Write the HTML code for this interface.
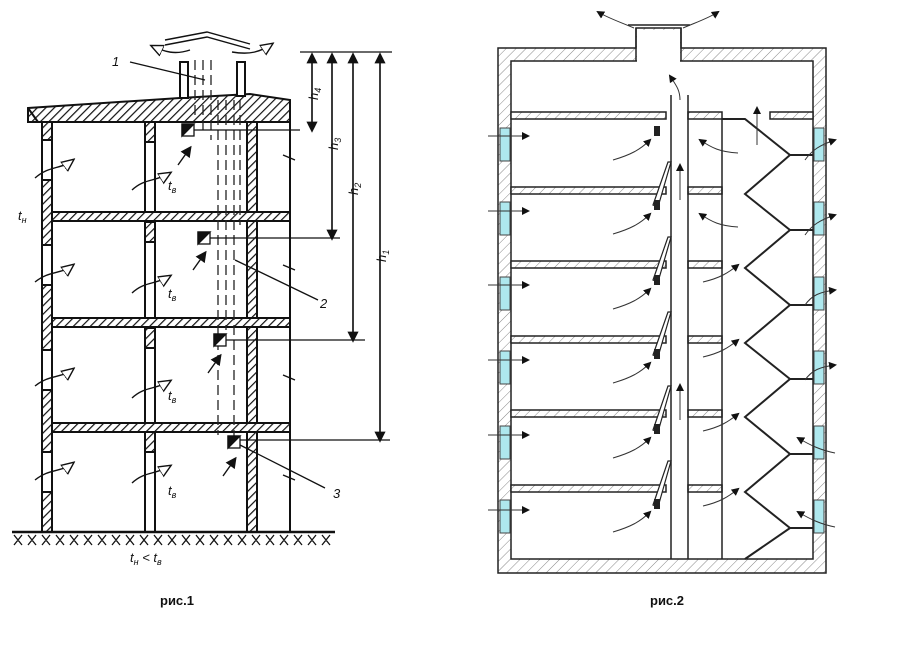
<!DOCTYPE html>
<html><head><meta charset="utf-8"><style>
html,body{margin:0;padding:0;background:#fff;}
svg{display:block}
text{font-family:"Liberation Sans",sans-serif;}
</style></head><body>
<svg width="899" height="645" viewBox="0 0 899 645" xmlns="http://www.w3.org/2000/svg">
<defs>
<pattern id="h" width="6" height="6" patternUnits="userSpaceOnUse" patternTransform="rotate(45)">
<rect width="6" height="6" fill="#fff"/><line x1="0" y1="0" x2="0" y2="6" stroke="#111" stroke-width="2.4"/></pattern>
<pattern id="h2" width="7" height="7" patternUnits="userSpaceOnUse" patternTransform="rotate(45)">
<rect width="7" height="7" fill="#fff"/><line x1="0" y1="0" x2="0" y2="7" stroke="#888" stroke-width="1"/></pattern>
<marker id="a" markerWidth="8" markerHeight="8" refX="6" refY="4" orient="auto"><path d="M0,0 L8,4 L0,8 z" fill="#111"/></marker>
<marker id="o" markerWidth="10" markerHeight="10" refX="8" refY="5" orient="auto"><path d="M0,1 L9,5 L0,9 z" fill="#fff" stroke="#111"/></marker>
</defs>
<!-- ===== FIG 1 ===== -->
<g stroke="#111" stroke-width="2">
<path d="M28,108 L180,98 L250,94 L290,100 L290,122 L28,122 Z" fill="url(#h)"/>
<path d="M28,108 L38,122" fill="none"/>
<rect x="180" y="62" width="8" height="36" fill="#fff"/>
<rect x="237" y="62" width="8" height="34" fill="#fff"/>
<rect x="42" y="122" width="10" height="410" fill="url(#h)"/>
<rect x="145" y="122" width="10" height="410" fill="#fff"/>
<rect x="247" y="122" width="10" height="410" fill="url(#h)"/>
<rect x="42" y="140" width="10" height="40" fill="#fff"/>
<rect x="42" y="245" width="10" height="40" fill="#fff"/>
<rect x="42" y="350" width="10" height="40" fill="#fff"/>
<rect x="42" y="452" width="10" height="40" fill="#fff"/>
<rect x="145" y="122" width="10" height="20" fill="url(#h)"/>
<rect x="145" y="222" width="10" height="20" fill="url(#h)"/>
<rect x="145" y="328" width="10" height="20" fill="url(#h)"/>
<rect x="145" y="432" width="10" height="20" fill="url(#h)"/>
<rect x="52" y="212" width="238" height="9" fill="url(#h)"/>
<rect x="52" y="318" width="238" height="9" fill="url(#h)"/>
<rect x="52" y="423" width="238" height="9" fill="url(#h)"/>
<line x1="290" y1="122" x2="290" y2="532"/>
<line x1="12" y1="532" x2="335" y2="532" stroke-width="2.5"/>
<path d="M14,535 l8,10 m0,-10 l-8,10 M28,535 l8,10 m0,-10 l-8,10 M42,535 l8,10 m0,-10 l-8,10 M56,535 l8,10 m0,-10 l-8,10 M70,535 l8,10 m0,-10 l-8,10 M84,535 l8,10 m0,-10 l-8,10 M98,535 l8,10 m0,-10 l-8,10 M112,535 l8,10 m0,-10 l-8,10 M126,535 l8,10 m0,-10 l-8,10 M140,535 l8,10 m0,-10 l-8,10 M154,535 l8,10 m0,-10 l-8,10 M168,535 l8,10 m0,-10 l-8,10 M182,535 l8,10 m0,-10 l-8,10 M196,535 l8,10 m0,-10 l-8,10 M210,535 l8,10 m0,-10 l-8,10 M224,535 l8,10 m0,-10 l-8,10 M238,535 l8,10 m0,-10 l-8,10 M252,535 l8,10 m0,-10 l-8,10 M266,535 l8,10 m0,-10 l-8,10 M280,535 l8,10 m0,-10 l-8,10 M294,535 l8,10 m0,-10 l-8,10 M308,535 l8,10 m0,-10 l-8,10 M322,535 l8,10 m0,-10 l-8,10" stroke-width="1.3"/>
</g>
<g stroke="#222" stroke-width="1.3" stroke-dasharray="10,5">
<line x1="195" y1="60" x2="195" y2="120"/><line x1="203" y1="60" x2="203" y2="135"/><line x1="211" y1="60" x2="211" y2="140"/>
<line x1="218" y1="100" x2="218" y2="435"/><line x1="226" y1="100" x2="226" y2="330"/><line x1="234" y1="100" x2="234" y2="440"/><line x1="240" y1="100" x2="240" y2="225"/>
</g>
<g stroke="#111" stroke-width="1.3">
<rect x="182" y="124" width="12" height="12" fill="#fff"/><path d="M182,124 h12 L182,136z" fill="#111"/>
<rect x="198" y="232" width="12" height="12" fill="#fff"/><path d="M198,232 h12 L198,244z" fill="#111"/>
<rect x="214" y="334" width="12" height="12" fill="#fff"/><path d="M214,334 h12 L214,346z" fill="#111"/>
<rect x="228" y="436" width="12" height="12" fill="#fff"/><path d="M228,436 h12 L228,448z" fill="#111"/>
<line x1="194" y1="130" x2="300" y2="130"/><line x1="210" y1="238" x2="340" y2="238"/><line x1="226" y1="340" x2="365" y2="340"/><line x1="240" y1="440" x2="390" y2="440"/>
<line x1="300" y1="52" x2="392" y2="52"/>
<line x1="240" y1="445" x2="325" y2="488"/><line x1="130" y1="62" x2="205" y2="80"/><line x1="235" y1="260" x2="318" y2="300"/>
</g>
<g stroke="#111" stroke-width="1.4" fill="none">
<line x1="312" y1="56" x2="312" y2="130" marker-end="url(#a)"/><line x1="312" y1="126" x2="312" y2="55" marker-end="url(#a)"/>
<line x1="332" y1="238" x2="332" y2="55" marker-end="url(#a)"/>
<line x1="353" y1="340" x2="353" y2="55" marker-end="url(#a)"/>
<line x1="380" y1="440" x2="380" y2="55" marker-end="url(#a)"/>
<line x1="332" y1="60" x2="332" y2="238" marker-end="url(#a)"/>
<line x1="353" y1="60" x2="353" y2="340" marker-end="url(#a)"/>
<line x1="380" y1="60" x2="380" y2="440" marker-end="url(#a)"/>
<path d="M165,40 L207,32 L250,44"/><path d="M165,45 L207,37 L250,49"/>
<path d="M190,50 C175,55 165,52 152,46" marker-end="url(#o)"/><path d="M232,52 C250,55 260,52 272,44" marker-end="url(#o)"/>
<path d="M35,178 C50,165 60,170 73,160" marker-end="url(#o)"/>
<path d="M35,282 C50,270 60,275 73,265" marker-end="url(#o)"/>
<path d="M35,386 C50,374 60,379 73,369" marker-end="url(#o)"/>
<path d="M35,480 C50,468 60,473 73,463" marker-end="url(#o)"/>
<path d="M132,190 C145,178 155,182 170,173" marker-end="url(#o)"/>
<path d="M132,293 C145,281 155,285 170,276" marker-end="url(#o)"/>
<path d="M132,398 C145,386 155,390 170,381" marker-end="url(#o)"/>
<path d="M132,483 C145,471 155,475 170,466" marker-end="url(#o)"/>
<line x1="178" y1="165" x2="190" y2="148" marker-end="url(#a)"/>
<line x1="193" y1="270" x2="205" y2="253" marker-end="url(#a)"/>
<line x1="208" y1="373" x2="220" y2="356" marker-end="url(#a)"/>
<line x1="223" y1="476" x2="235" y2="459" marker-end="url(#a)"/>
<path d="M283,155 l12,5 M283,265 l12,5 M283,375 l12,5 M283,475 l12,5"/>
</g>
<g font-style="italic" font-size="13" fill="#111">
<text x="112" y="66">1</text><text x="320" y="308">2</text><text x="333" y="498">3</text>
<text x="18" y="220">t<tspan font-size="9" dy="3">н</tspan></text>
<text x="168" y="190">t<tspan font-size="9" dy="3">в</tspan></text><text x="168" y="298">t<tspan font-size="9" dy="3">в</tspan></text><text x="168" y="400">t<tspan font-size="9" dy="3">в</tspan></text><text x="168" y="495">t<tspan font-size="9" dy="3">в</tspan></text>
<text x="130" y="562">t<tspan font-size="9" dy="3">н</tspan><tspan dy="-3"> &lt; t</tspan><tspan font-size="9" dy="3">в</tspan></text>
<text transform="translate(318,100) rotate(-90)">h<tspan font-size="9" dy="3">4</tspan></text>
<text transform="translate(338,150) rotate(-90)">h<tspan font-size="9" dy="3">3</tspan></text>
<text transform="translate(358,195) rotate(-90)">h<tspan font-size="9" dy="3">2</tspan></text>
<text transform="translate(386,262) rotate(-90)">h<tspan font-size="9" dy="3">1</tspan></text>
</g>
<text x="160" y="605" font-size="13" font-weight="bold" fill="#111">рис.1</text>
<text x="650" y="605" font-size="13" font-weight="bold" fill="#111">рис.2</text>

<!-- ===== FIG 2 ===== -->
<g stroke="#222" stroke-width="1.5">
<path d="M498,48 H636 V28 H681 V48 H826 V573 H498 Z" fill="url(#h2)"/>
<rect x="511" y="61" width="302" height="498" fill="#fff"/>
<rect x="637" y="30" width="43" height="33" fill="#fff" stroke="none"/>
<line x1="636" y1="28" x2="636" y2="61"/><line x1="681" y1="28" x2="681" y2="61"/>
<line x1="628" y1="25" x2="690" y2="25"/>
<g fill="#aee8ee" stroke="#444" stroke-width="1">
<rect x="500" y="128" width="10" height="33"/><rect x="500" y="202" width="10" height="33"/><rect x="500" y="277" width="10" height="33"/><rect x="500" y="351" width="10" height="33"/><rect x="500" y="426" width="10" height="33"/><rect x="500" y="500" width="10" height="33"/>
<rect x="814" y="128" width="10" height="33"/><rect x="814" y="202" width="10" height="33"/><rect x="814" y="277" width="10" height="33"/><rect x="814" y="351" width="10" height="33"/><rect x="814" y="426" width="10" height="33"/><rect x="814" y="500" width="10" height="33"/>
</g>
<g fill="url(#h2)">
<rect x="511" y="112" width="155" height="7"/><rect x="688" y="112" width="34" height="7"/><rect x="770" y="112" width="43" height="7"/>
<rect x="511" y="187" width="155" height="7"/><rect x="688" y="187" width="34" height="7"/>
<rect x="511" y="261" width="155" height="7"/><rect x="688" y="261" width="34" height="7"/>
<rect x="511" y="336" width="155" height="7"/><rect x="688" y="336" width="34" height="7"/>
<rect x="511" y="410" width="155" height="7"/><rect x="688" y="410" width="34" height="7"/>
<rect x="511" y="485" width="155" height="7"/><rect x="688" y="485" width="34" height="7"/>
</g>
<line x1="671" y1="95" x2="671" y2="559"/><line x1="688" y1="95" x2="688" y2="559"/>
<line x1="722" y1="119" x2="722" y2="559"/>
<polyline fill="none" stroke-width="2" points="722,119 745,119 790,155 813,155 790,155 745,194 790,230 813,230 790,230 745,268 790,305 813,305 790,305 745,343 790,379 813,379 790,379 745,417 790,454 813,454 790,454 745,492 790,528 813,528 790,528 745,559"/>
<g fill="#fff" stroke-width="1.2">
<path d="M653,205 L668,162 L671,162 L658,207 Z"/><path d="M653,280 L668,237 L671,237 L658,282 Z"/><path d="M653,355 L668,312 L671,312 L658,357 Z"/><path d="M653,430 L668,386 L671,386 L658,432 Z"/><path d="M653,505 L668,461 L671,461 L658,507 Z"/>
</g>
<g fill="#222" stroke="none">
<rect x="654" y="126" width="6" height="10"/><rect x="654" y="200" width="6" height="10"/><rect x="654" y="275" width="6" height="10"/><rect x="654" y="349" width="6" height="10"/><rect x="654" y="424" width="6" height="10"/><rect x="654" y="499" width="6" height="10"/>
</g>
</g>
<g stroke="#333" stroke-width="1" fill="none">
<line x1="488" y1="136" x2="528" y2="136" marker-end="url(#a)"/><line x1="488" y1="211" x2="528" y2="211" marker-end="url(#a)"/><line x1="488" y1="285" x2="528" y2="285" marker-end="url(#a)"/><line x1="488" y1="360" x2="528" y2="360" marker-end="url(#a)"/><line x1="488" y1="435" x2="528" y2="435" marker-end="url(#a)"/><line x1="488" y1="510" x2="528" y2="510" marker-end="url(#a)"/>
<path d="M613,160 C630,155 640,150 650,140" marker-end="url(#a)"/><path d="M613,234 C630,229 640,224 650,214" marker-end="url(#a)"/><path d="M613,309 C630,304 640,299 650,289" marker-end="url(#a)"/><path d="M613,383 C630,378 640,373 650,363" marker-end="url(#a)"/><path d="M613,458 C630,453 640,448 650,438" marker-end="url(#a)"/><path d="M613,532 C630,527 640,522 650,512" marker-end="url(#a)"/>
<path d="M738,153 C720,152 712,148 700,140" marker-end="url(#a)"/><path d="M738,227 C720,226 712,222 700,214" marker-end="url(#a)"/>
<path d="M703,282 C720,278 728,273 738,265" marker-end="url(#a)"/><path d="M703,357 C720,353 728,348 738,340" marker-end="url(#a)"/><path d="M703,431 C720,427 728,422 738,414" marker-end="url(#a)"/><path d="M703,506 C720,502 728,497 738,489" marker-end="url(#a)"/>
<path d="M805,160 C812,150 820,145 835,140" marker-end="url(#a)"/><path d="M805,235 C812,225 820,220 835,215" marker-end="url(#a)"/><path d="M805,305 C812,295 820,292 835,290" marker-end="url(#a)"/><path d="M805,380 C812,370 820,367 835,365" marker-end="url(#a)"/>
<path d="M835,453 C820,450 810,445 798,438" marker-end="url(#a)"/><path d="M835,527 C820,524 810,519 798,512" marker-end="url(#a)"/>
<line x1="680" y1="200" x2="680" y2="165" marker-end="url(#a)"/><line x1="680" y1="420" x2="680" y2="385" marker-end="url(#a)"/>
<line x1="757" y1="145" x2="757" y2="108" marker-end="url(#a)"/>
<path d="M680,100 C680,90 676,85 670,76" marker-end="url(#a)"/>
<path d="M634,28 C620,22 608,18 598,12" marker-end="url(#a)"/><path d="M683,28 C697,22 709,18 718,12" marker-end="url(#a)"/>
</g>
</svg>
</body></html>
